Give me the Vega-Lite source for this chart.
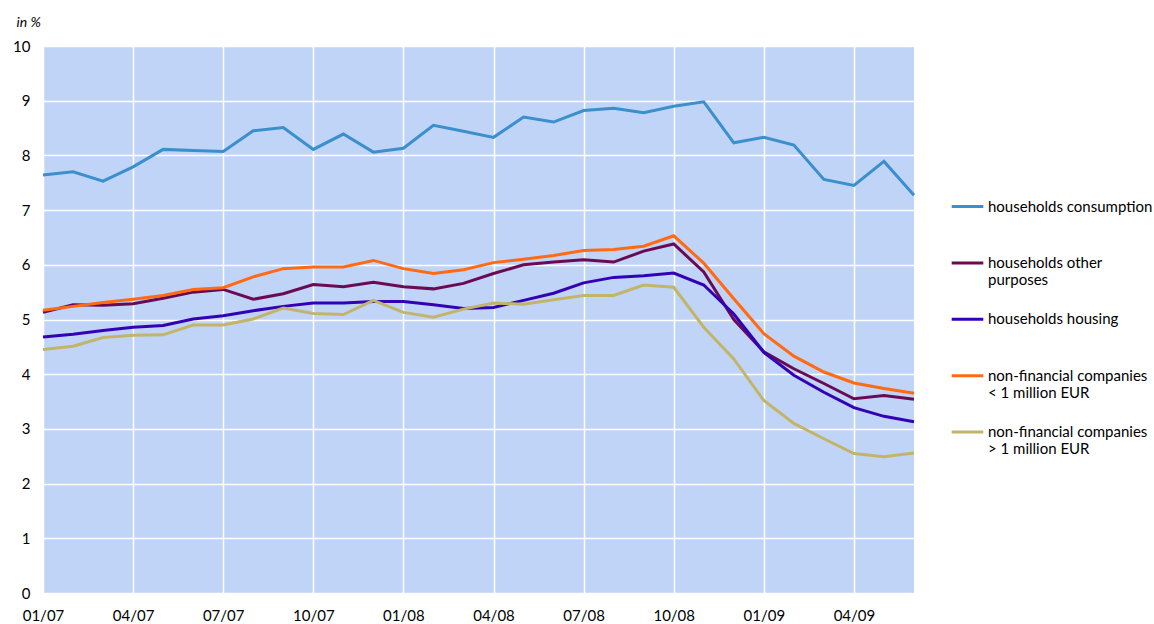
{
  "$schema": "https://vega.github.io/schema/vega-lite/v6.json",
  "width": 871,
  "height": 547,
  "autosize": "none",
  "padding": {"left": 43, "top": 46, "right": 240, "bottom": 31},
  "background": "white",
  "config": {"view": {"stroke": null, "fill": "#C0D4F7"}, "font": "Lato"},
  "data": {"values": [
    {"m":"01/07","s":"households consumption","v":7.64},{"m":"02/07","s":"households consumption","v":7.70},{"m":"03/07","s":"households consumption","v":7.53},{"m":"04/07","s":"households consumption","v":7.79},{"m":"05/07","s":"households consumption","v":8.11},{"m":"06/07","s":"households consumption","v":8.09},{"m":"07/07","s":"households consumption","v":8.07},{"m":"08/07","s":"households consumption","v":8.45},{"m":"09/07","s":"households consumption","v":8.51},{"m":"10/07","s":"households consumption","v":8.11},{"m":"11/07","s":"households consumption","v":8.39},{"m":"12/07","s":"households consumption","v":8.06},{"m":"01/08","s":"households consumption","v":8.13},{"m":"02/08","s":"households consumption","v":8.55},{"m":"03/08","s":"households consumption","v":8.44},{"m":"04/08","s":"households consumption","v":8.33},{"m":"05/08","s":"households consumption","v":8.70},{"m":"06/08","s":"households consumption","v":8.61},{"m":"07/08","s":"households consumption","v":8.82},{"m":"08/08","s":"households consumption","v":8.86},{"m":"09/08","s":"households consumption","v":8.78},{"m":"10/08","s":"households consumption","v":8.90},{"m":"11/08","s":"households consumption","v":8.98},{"m":"12/08","s":"households consumption","v":8.23},{"m":"01/09","s":"households consumption","v":8.33},{"m":"02/09","s":"households consumption","v":8.19},{"m":"03/09","s":"households consumption","v":7.56},{"m":"04/09","s":"households consumption","v":7.45},{"m":"05/09","s":"households consumption","v":7.89},{"m":"06/09","s":"households consumption","v":7.27},
    {"m":"01/07","s":"households other purposes","v":5.13},{"m":"02/07","s":"households other purposes","v":5.27},{"m":"03/07","s":"households other purposes","v":5.26},{"m":"04/07","s":"households other purposes","v":5.29},{"m":"05/07","s":"households other purposes","v":5.39},{"m":"06/07","s":"households other purposes","v":5.50},{"m":"07/07","s":"households other purposes","v":5.55},{"m":"08/07","s":"households other purposes","v":5.37},{"m":"09/07","s":"households other purposes","v":5.47},{"m":"10/07","s":"households other purposes","v":5.64},{"m":"11/07","s":"households other purposes","v":5.60},{"m":"12/07","s":"households other purposes","v":5.68},{"m":"01/08","s":"households other purposes","v":5.60},{"m":"02/08","s":"households other purposes","v":5.56},{"m":"03/08","s":"households other purposes","v":5.66},{"m":"04/08","s":"households other purposes","v":5.84},{"m":"05/08","s":"households other purposes","v":6.00},{"m":"06/08","s":"households other purposes","v":6.05},{"m":"07/08","s":"households other purposes","v":6.09},{"m":"08/08","s":"households other purposes","v":6.05},{"m":"09/08","s":"households other purposes","v":6.25},{"m":"10/08","s":"households other purposes","v":6.38},{"m":"11/08","s":"households other purposes","v":5.87},{"m":"12/08","s":"households other purposes","v":5.00},{"m":"01/09","s":"households other purposes","v":4.41},{"m":"02/09","s":"households other purposes","v":4.10},{"m":"03/09","s":"households other purposes","v":3.83},{"m":"04/09","s":"households other purposes","v":3.55},{"m":"05/09","s":"households other purposes","v":3.61},{"m":"06/09","s":"households other purposes","v":3.54},
    {"m":"01/07","s":"households housing","v":4.68},{"m":"02/07","s":"households housing","v":4.73},{"m":"03/07","s":"households housing","v":4.80},{"m":"04/07","s":"households housing","v":4.86},{"m":"05/07","s":"households housing","v":4.89},{"m":"06/07","s":"households housing","v":5.01},{"m":"07/07","s":"households housing","v":5.07},{"m":"08/07","s":"households housing","v":5.16},{"m":"09/07","s":"households housing","v":5.24},{"m":"10/07","s":"households housing","v":5.30},{"m":"11/07","s":"households housing","v":5.30},{"m":"12/07","s":"households housing","v":5.33},{"m":"01/08","s":"households housing","v":5.33},{"m":"02/08","s":"households housing","v":5.27},{"m":"03/08","s":"households housing","v":5.20},{"m":"04/08","s":"households housing","v":5.22},{"m":"05/08","s":"households housing","v":5.35},{"m":"06/08","s":"households housing","v":5.48},{"m":"07/08","s":"households housing","v":5.67},{"m":"08/08","s":"households housing","v":5.77},{"m":"09/08","s":"households housing","v":5.80},{"m":"10/08","s":"households housing","v":5.85},{"m":"11/08","s":"households housing","v":5.63},{"m":"12/08","s":"households housing","v":5.10},{"m":"01/09","s":"households housing","v":4.40},{"m":"02/09","s":"households housing","v":3.98},{"m":"03/09","s":"households housing","v":3.67},{"m":"04/09","s":"households housing","v":3.39},{"m":"05/09","s":"households housing","v":3.23},{"m":"06/09","s":"households housing","v":3.13},
    {"m":"01/07","s":"non-financial companies < 1 million EUR","v":5.17},{"m":"02/07","s":"non-financial companies < 1 million EUR","v":5.24},{"m":"03/07","s":"non-financial companies < 1 million EUR","v":5.31},{"m":"04/07","s":"non-financial companies < 1 million EUR","v":5.37},{"m":"05/07","s":"non-financial companies < 1 million EUR","v":5.44},{"m":"06/07","s":"non-financial companies < 1 million EUR","v":5.55},{"m":"07/07","s":"non-financial companies < 1 million EUR","v":5.58},{"m":"08/07","s":"non-financial companies < 1 million EUR","v":5.78},{"m":"09/07","s":"non-financial companies < 1 million EUR","v":5.93},{"m":"10/07","s":"non-financial companies < 1 million EUR","v":5.96},{"m":"11/07","s":"non-financial companies < 1 million EUR","v":5.96},{"m":"12/07","s":"non-financial companies < 1 million EUR","v":6.08},{"m":"01/08","s":"non-financial companies < 1 million EUR","v":5.93},{"m":"02/08","s":"non-financial companies < 1 million EUR","v":5.84},{"m":"03/08","s":"non-financial companies < 1 million EUR","v":5.91},{"m":"04/08","s":"non-financial companies < 1 million EUR","v":6.04},{"m":"05/08","s":"non-financial companies < 1 million EUR","v":6.10},{"m":"06/08","s":"non-financial companies < 1 million EUR","v":6.17},{"m":"07/08","s":"non-financial companies < 1 million EUR","v":6.26},{"m":"08/08","s":"non-financial companies < 1 million EUR","v":6.28},{"m":"09/08","s":"non-financial companies < 1 million EUR","v":6.34},{"m":"10/08","s":"non-financial companies < 1 million EUR","v":6.53},{"m":"11/08","s":"non-financial companies < 1 million EUR","v":6.03},{"m":"12/08","s":"non-financial companies < 1 million EUR","v":5.38},{"m":"01/09","s":"non-financial companies < 1 million EUR","v":4.74},{"m":"02/09","s":"non-financial companies < 1 million EUR","v":4.33},{"m":"03/09","s":"non-financial companies < 1 million EUR","v":4.04},{"m":"04/09","s":"non-financial companies < 1 million EUR","v":3.84},{"m":"05/09","s":"non-financial companies < 1 million EUR","v":3.74},{"m":"06/09","s":"non-financial companies < 1 million EUR","v":3.65},
    {"m":"01/07","s":"non-financial companies > 1 million EUR","v":4.45},{"m":"02/07","s":"non-financial companies > 1 million EUR","v":4.51},{"m":"03/07","s":"non-financial companies > 1 million EUR","v":4.67},{"m":"04/07","s":"non-financial companies > 1 million EUR","v":4.71},{"m":"05/07","s":"non-financial companies > 1 million EUR","v":4.72},{"m":"06/07","s":"non-financial companies > 1 million EUR","v":4.90},{"m":"07/07","s":"non-financial companies > 1 million EUR","v":4.90},{"m":"08/07","s":"non-financial companies > 1 million EUR","v":5.01},{"m":"09/07","s":"non-financial companies > 1 million EUR","v":5.21},{"m":"10/07","s":"non-financial companies > 1 million EUR","v":5.11},{"m":"11/07","s":"non-financial companies > 1 million EUR","v":5.09},{"m":"12/07","s":"non-financial companies > 1 million EUR","v":5.35},{"m":"01/08","s":"non-financial companies > 1 million EUR","v":5.13},{"m":"02/08","s":"non-financial companies > 1 million EUR","v":5.04},{"m":"03/08","s":"non-financial companies > 1 million EUR","v":5.19},{"m":"04/08","s":"non-financial companies > 1 million EUR","v":5.30},{"m":"05/08","s":"non-financial companies > 1 million EUR","v":5.28},{"m":"06/08","s":"non-financial companies > 1 million EUR","v":5.36},{"m":"07/08","s":"non-financial companies > 1 million EUR","v":5.44},{"m":"08/08","s":"non-financial companies > 1 million EUR","v":5.44},{"m":"09/08","s":"non-financial companies > 1 million EUR","v":5.63},{"m":"10/08","s":"non-financial companies > 1 million EUR","v":5.59},{"m":"11/08","s":"non-financial companies > 1 million EUR","v":4.86},{"m":"12/08","s":"non-financial companies > 1 million EUR","v":4.28},{"m":"01/09","s":"non-financial companies > 1 million EUR","v":3.52},{"m":"02/09","s":"non-financial companies > 1 million EUR","v":3.10},{"m":"03/09","s":"non-financial companies > 1 million EUR","v":2.82},{"m":"04/09","s":"non-financial companies > 1 million EUR","v":2.55},{"m":"05/09","s":"non-financial companies > 1 million EUR","v":2.49},{"m":"06/09","s":"non-financial companies > 1 million EUR","v":2.56}
  ]},
  "mark": {"type": "line", "strokeWidth": 3},
  "encoding": {
    "x": {
      "field": "m", "type": "ordinal", "sort": null,
      "scale": {"type": "point", "padding": 0},
      "axis": {
        "title": null,
        "values": ["01/07","04/07","07/07","10/07","01/08","04/08","07/08","10/08","01/09","04/09"],
        "labelAngle": 0, "labelFontSize": 15, "labelColor": "black", "labelPadding": 15,
        "ticks": false, "domain": false,
        "grid": true, "gridColor": "white", "gridWidth": 1.5, "gridOpacity": 1
      }
    },
    "y": {
      "field": "v", "type": "quantitative",
      "scale": {"domain": [0, 10], "nice": false},
      "axis": {
        "values": [0,1,2,3,4,5,6,7,8,9,10],
        "title": "in %", "titleFontStyle": "italic", "titleFontWeight": "normal", "titleFontSize": 14,
        "titleAngle": 0, "titleAlign": "left", "titleBaseline": "alphabetic", "titleX": -27, "titleY": -20, "titleColor": "black",
        "labelFontSize": 15, "labelColor": "black", "labelPadding": 13,
        "ticks": false, "domain": false,
        "grid": true, "gridColor": "white", "gridWidth": 1.5, "gridOpacity": 1
      }
    },
    "color": {
      "field": "s", "type": "nominal",
      "sort": ["households consumption","households other purposes","households housing","non-financial companies < 1 million EUR","non-financial companies > 1 million EUR"],
      "scale": {
        "domain": ["households consumption","households other purposes","households housing","non-financial companies < 1 million EUR","non-financial companies > 1 million EUR"],
        "range": ["#3B8FCC","#6A0A55","#3300B5","#FF6A13","#C2B56A"]
      },
      "legend": {
        "orient": "none", "legendX": 907, "legendY": 143,
        "title": null,
        "symbolType": "stroke", "symbolStrokeWidth": 3, "symbolSize": 1000,
        "labelFont": "Lato", "labelFontSize": 15, "labelColor": "black", "labelLimit": 300, "labelOffset": 3,
        "labelBaseline": "middle",
        "gridAlign": "all", "rowPadding": 13.4,
        "labelExpr": "datum.label == 'households other purposes' ? ['households other', 'purposes'] : datum.label == 'non-financial companies < 1 million EUR' ? ['non-financial companies', '< 1 million EUR'] : datum.label == 'non-financial companies > 1 million EUR' ? ['non-financial companies', '> 1 million EUR'] : datum.label"
      }
    }
  }
}
